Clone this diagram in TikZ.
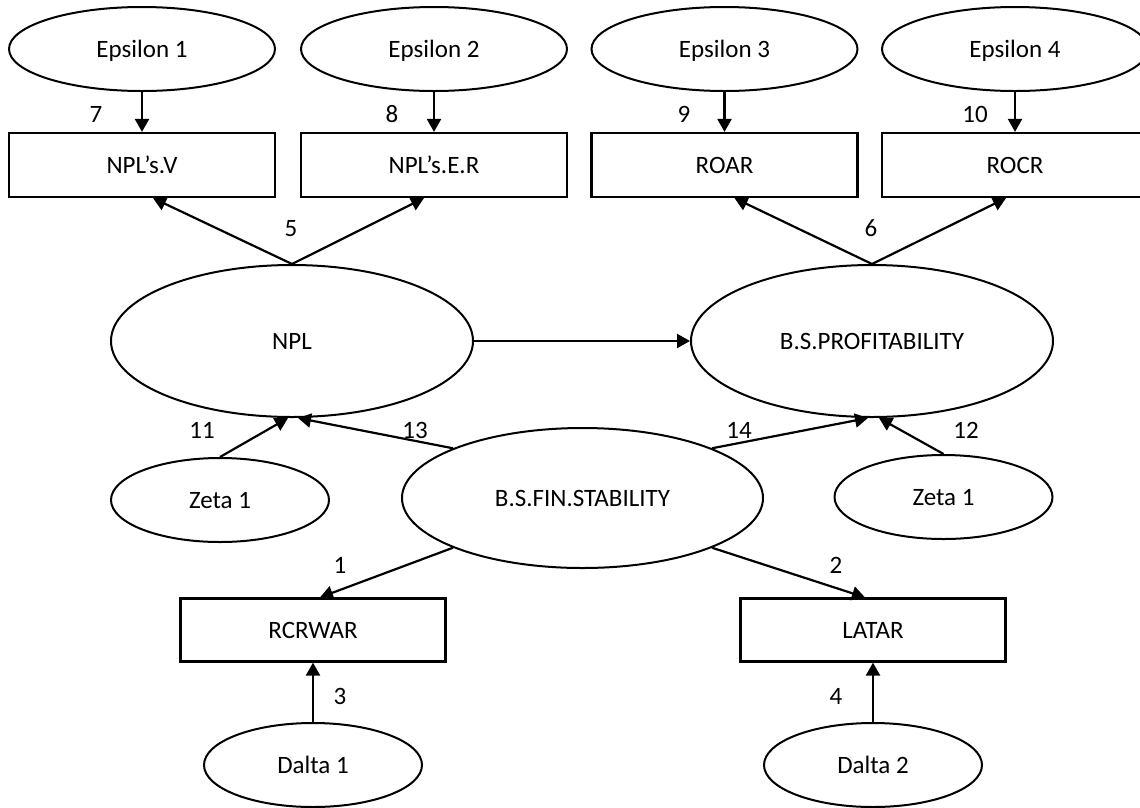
\documentclass[tikz,border=0pt]{standalone}
\usepackage{fontspec}
\setmainfont{Carlito}
\usetikzlibrary{arrows.meta,shapes.geometric}
\begin{document}
\begin{tikzpicture}[x=1pt,y=-1pt,
  every node/.style={font=\fontsize{25}{30}\selectfont, text height=16pt, text depth=0pt, inner sep=0pt},
  oval/.style={draw, line width=2pt, ellipse},
  smalloval/.style={oval, minimum width=266pt, minimum height=84pt},
  bigoval/.style={oval, minimum width=362pt, minimum height=152pt},
  midoval/.style={oval, minimum width=218pt, minimum height=84pt},
  obsbox/.style={draw, line width=2.2pt, rectangle, minimum width=266pt, minimum height=64pt},
  num/.style={},
  link/.style={line width=2.2pt, -{Triangle[length=13pt,width=14pt]}}]
\useasboundingbox (0,0) rectangle (1140,807);
\clip (0,0) rectangle (1140,807);
\fill[white] (0,0) rectangle (1140,807);

% top error terms
\node[smalloval] (e1) at (142,49) {Epsilon 1};
\node[smalloval] (e2) at (434,49) {Epsilon 2};
\node[smalloval] (e3) at (724.5,49) {Epsilon 3};
\node[smalloval] (e4) at (1015,49) {Epsilon 4};

% indicators
\node[obsbox] (b1) at (142,165) {NPL’s.V};
\node[obsbox] (b2) at (434,165) {NPL’s.E.R};
\node[obsbox] (b3) at (724.5,165) {ROAR};
\node[obsbox] (b4) at (1015,165) {ROCR};

% latent variables
\node[bigoval] (npl) at (292,341) {NPL};
\node[bigoval] (prof) at (872,341) {B.S.PROFITABILITY};
\node[oval, minimum width=361pt, minimum height=140pt] (fin) at (582.5,498) {B.S.FIN.STABILITY};

\node[midoval] (z1) at (220,500) {Zeta 1};
\node[midoval] (z2) at (943.5,497) {Zeta 1};

\node[obsbox, minimum width=265pt, minimum height=63pt] (rc) at (313,630) {RCRWAR};
\node[obsbox, minimum width=265pt, minimum height=63pt] (la) at (873,630) {LATAR};

\node[midoval] (d1) at (313,765) {Dalta 1};
\node[midoval] (d2) at (873,765) {Dalta 2};

% connectors
\draw[link] (e1.south) -- (b1.north);
\draw[link] (e2.south) -- (b2.north);
\draw[link] (e3.south) -- (b3.north);
\draw[link] (e4.south) -- (b4.north);

\draw[link] (npl.north) -- ([xshift=11pt]b1.south);
\draw[link] (npl.north) -- ([xshift=-10pt]b2.south);
\draw[link] (prof.north) -- ([xshift=10pt]b3.south);
\draw[link] (prof.north) -- ([xshift=-9pt]b4.south);

\draw[link] (npl.east) -- (prof.west);

\draw[link] (z1.north) -- ([xshift=-4pt]npl.south);
\draw[link] (fin.159) -- ([xshift=6pt]npl.south);
\draw[link] (fin.21) -- ([xshift=-4pt]prof.south);
\draw[link] (z2.north) -- ([xshift=7pt]prof.south);

\draw[link] (fin.201) -- ([xshift=7pt]rc.north);
\draw[link] (fin.339) -- ([xshift=-8pt]la.north);

\draw[link] (d1.north) -- (rc.south);
\draw[link] (d2.north) -- (la.south);

% path numbers
\node[num] (n7) at (96,114) {7};
\node[num] (n8) at (392,114) {8};
\node[num] (n9) at (684,114) {9};
\node[num] (n10) at (975,114) {10};
\node[num] (n5) at (291,228) {5};
\node[num] (n6) at (871,228) {6};
\node[num] (n11) at (202,430) {11};
\node[num] (n13) at (415,430) {13};
\node[num] (n14) at (739,430) {14};
\node[num] (n12) at (966,430) {12};
\node[num] (n1) at (340,565) {1};
\node[num] (n2) at (836,565) {2};
\node[num] (n3) at (340,696) {3};
\node[num] (n4) at (836,696) {4};
\end{tikzpicture}
\end{document}
